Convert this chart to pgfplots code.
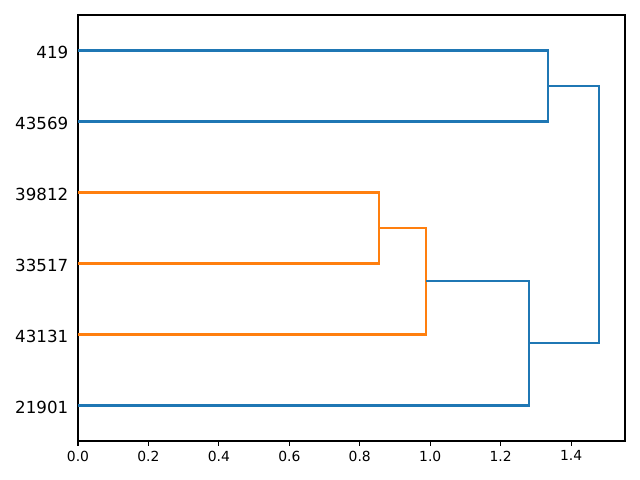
\documentclass[border=0pt]{standalone}
\usepackage{fontspec}
\setmainfont{DejaVu Sans}
\usepackage{pgfplots}
\pgfplotsset{compat=1.18}
\definecolor{cblue}{HTML}{1F77B4}
\definecolor{corange}{HTML}{FF7F0E}
\begin{document}
\begin{tikzpicture}[x=1pt,y=1pt]
\useasboundingbox (0,0) rectangle (460.8,345.6);
\begin{axis}[
  at={(56.16pt,28.08pt)}, anchor=south west,
  scale only axis, width=393.84pt, height=306.72pt,
  xmin=0, xmax=1.553, ymin=0, ymax=60,
  xtick={0,0.2,0.4,0.6,0.8,1.0,1.2,1.4},
  xticklabel style={/pgf/number format/.cd,fixed,fixed zerofill,precision=1},
  /pgf/number format/assume math mode=true,
  ytick={5,15,25,35,45,55},
  yticklabels={21901,43131,33517,39812,43569,419},
  ticklabel style={font=\fontsize{10}{12}\selectfont},
  yticklabel style={font=\fontsize{12}{14}\selectfont, yshift=-1.3pt},
  tick align=outside,
  xtick pos=bottom,
  ytick style={draw=none},
  xtick style={line width=0.8pt, black},
  major tick length=3.5pt,
  axis line style={line width=0.8pt},
  every axis plot/.append style={line width=1.5pt},
  clip=false,
]
\addplot[cblue] coordinates {(0,55) (1.335,55) (1.335,45) (0,45)};
\addplot[corange] coordinates {(0,35) (0.855,35) (0.855,25) (0,25)};
\addplot[corange] coordinates {(0.855,30) (0.988,30) (0.988,15) (0,15)};
\addplot[cblue] coordinates {(0.988,22.5) (1.281,22.5) (1.281,5) (0,5)};
\addplot[cblue] coordinates {(1.281,13.75) (1.4795,13.75) (1.4795,50) (1.335,50)};
\end{axis}
\end{tikzpicture}
\end{document}
